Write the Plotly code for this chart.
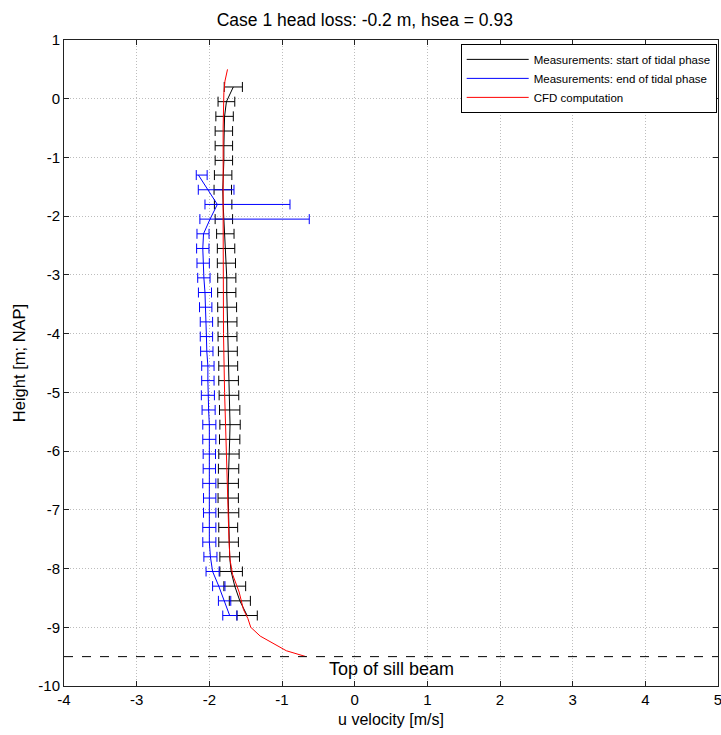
import plotly.graph_objects as go

TITLE = "Case 1 head loss: -0.2 m, hsea = 0.93"
SILL_LEVEL = -9.5
SILL_LABEL = "Top of sill beam"

# Measurements at the start of the tidal phase: height [m NAP], mean u [m/s], spread [m/s]
z_start = [0.2, -0.05, -0.3, -0.55, -0.8, -1.05, -1.3, -1.55, -1.8, -2.05,
           -2.3, -2.55, -2.8, -3.05, -3.3, -3.55, -3.8, -4.05, -4.3, -4.55,
           -4.8, -5.05, -5.3, -5.55, -5.8, -6.05, -6.3, -6.55, -6.8, -7.05,
           -7.3, -7.55, -7.8, -8.05, -8.3, -8.55, -8.8]
u_start = [-1.67, -1.765, -1.79, -1.80, -1.80, -1.80, -1.81, -1.815, -1.81, -1.80,
           -1.78, -1.77, -1.765, -1.76, -1.76, -1.755, -1.75, -1.75, -1.745, -1.74,
           -1.735, -1.73, -1.72, -1.715, -1.72, -1.73, -1.735, -1.74, -1.74, -1.735,
           -1.74, -1.735, -1.72, -1.70, -1.65, -1.58, -1.48]
err_start = [0.125, 0.115, 0.12, 0.12, 0.12, 0.12, 0.12, 0.12, 0.12, 0.12,
             0.12, 0.12, 0.125, 0.125, 0.125, 0.13, 0.13, 0.13, 0.13, 0.13,
             0.135, 0.135, 0.14, 0.14, 0.14, 0.14, 0.14, 0.14, 0.14, 0.14,
             0.13, 0.135, 0.135, 0.155, 0.15, 0.145, 0.14]

# Measurements at the end of the tidal phase: height, mean u, lower / upper spread
z_end = [-1.3, -1.55, -1.8, -2.05, -2.3, -2.55, -2.8, -3.05, -3.3, -3.55,
         -3.8, -4.05, -4.3, -4.55, -4.8, -5.05, -5.3, -5.55, -5.8, -6.05,
         -6.3, -6.55, -6.8, -7.05, -7.3, -7.55, -7.8, -8.05, -8.3, -8.55, -8.8]
u_end = [-2.15, -2.015, -1.89, -1.99, -2.08, -2.09, -2.085, -2.075, -2.06, -2.05,
         -2.04, -2.04, -2.035, -2.02, -2.02, -2.02, -2.01, -2.0, -2.0, -2.0,
         -2.0, -2.0, -1.995, -1.995, -2.0, -2.0, -1.985, -1.955, -1.87, -1.79, -1.72]
err_end_minus = [0.03, 0.137, 0.17, 0.14, 0.09, 0.085, 0.085, 0.085, 0.09, 0.085,
                 0.085, 0.085, 0.085, 0.085, 0.085, 0.09, 0.09, 0.09, 0.09, 0.085,
                 0.085, 0.09, 0.085, 0.085, 0.09, 0.09, 0.09, 0.09, 0.085, 0.085, 0.095]
err_end_plus = [0.12, 0.354, 1.0, 1.365, 0.076, 0.085, 0.085, 0.085, 0.09, 0.085,
                0.085, 0.085, 0.085, 0.085, 0.085, 0.09, 0.09, 0.09, 0.09, 0.085,
                0.085, 0.09, 0.085, 0.085, 0.09, 0.09, 0.09, 0.09, 0.085, 0.085, 0.1]

# CFD computed profile
z_cfd = [0.5, 0.4, 0.3, 0.1, -0.5, -2.0, -4.0, -5.0, -6.0, -7.0, -7.5, -7.85,
         -8.1, -8.4, -8.7, -8.85, -9.0, -9.15, -9.28, -9.4, -9.5]
u_cfd = [-1.75, -1.77, -1.785, -1.80, -1.81, -1.81, -1.805, -1.79, -1.77, -1.745,
         -1.73, -1.715, -1.68, -1.59, -1.53, -1.47, -1.43, -1.30, -1.12, -0.94, -0.67]

x_ticks = [-4, -3, -2, -1, 0, 1, 2, 3, 4, 5]
y_ticks = [1, 0, -1, -2, -3, -4, -5, -6, -7, -8, -9, -10]

FONT = "Liberation Sans, Arial, Helvetica, sans-serif"

fig = go.Figure()

fig.add_trace(go.Scatter(
    x=u_start, y=z_start, mode="lines",
    name="Measurements: start of tidal phase",
    line=dict(color="#000000", width=1),
    error_x=dict(type="data", array=err_start, symmetric=True,
                 color="#000000", thickness=1, width=5),
))
fig.add_trace(go.Scatter(
    x=u_end, y=z_end, mode="lines",
    name="Measurements: end of tidal phase",
    line=dict(color="#0000ff", width=1),
    error_x=dict(type="data", array=err_end_plus, arrayminus=err_end_minus,
                 symmetric=False, color="#0000ff", thickness=1, width=5),
))
fig.add_trace(go.Scatter(
    x=u_cfd, y=z_cfd, mode="lines",
    name="CFD computation",
    line=dict(color="#ff0000", width=1),
))

# sill beam level
fig.add_shape(type="line", xref="paper", x0=0, x1=1, yref="y",
              y0=SILL_LEVEL, y1=SILL_LEVEL,
              line=dict(color="#000000", width=1, dash="dash"))
fig.add_annotation(x=0.5, y=SILL_LEVEL, xref="x", yref="y", text=SILL_LABEL,
                   showarrow=False, yanchor="top", xanchor="center", yshift=0,
                   font=dict(family=FONT, size=18, color="#000000"))

axis_common = dict(
    showgrid=True, gridcolor="#bdbdbd", griddash="1px,2px", gridwidth=1,
    showline=True, linecolor="#222222", linewidth=1, mirror="ticks",
    ticks="inside", ticklen=5, tickcolor="#222222", zeroline=False,
    ticklabeloverflow="allow",
    tickfont=dict(family=FONT, size=15, color="#000000"),
)

fig.update_xaxes(range=[-4, 5], tickvals=x_ticks,
                 ticktext=[str(v) for v in x_ticks],
                 title=dict(text="u velocity [m/s]", standoff=6,
                            font=dict(family=FONT, size=16, color="#000000")),
                 **axis_common)
fig.update_yaxes(range=[-10, 1], tickvals=y_ticks,
                 ticktext=[str(v) for v in y_ticks],
                 title=dict(text="Height [m; NAP]", standoff=8,
                            font=dict(family=FONT, size=16.5, color="#000000")),
                 **axis_common)

fig.update_layout(
    width=721, height=735,
    margin=dict(l=64, r=3, t=40, b=49, autoexpand=False),
    paper_bgcolor="#ffffff", plot_bgcolor="#ffffff",
    title=dict(text=TITLE, x=0.506, xanchor="center", y=0.973, yanchor="middle",
               font=dict(family=FONT, size=17.5, color="#000000")),
    font=dict(family=FONT, color="#000000"),
    showlegend=True,
    legend=dict(x=0.998, xanchor="right", y=0.994, yanchor="top",
                bgcolor="#ffffff", bordercolor="#000000", borderwidth=1,
                font=dict(family=FONT, size=11.5, color="#000000"),
                tracegroupgap=0, itemwidth=62),
)

fig.write_html("out.html")
